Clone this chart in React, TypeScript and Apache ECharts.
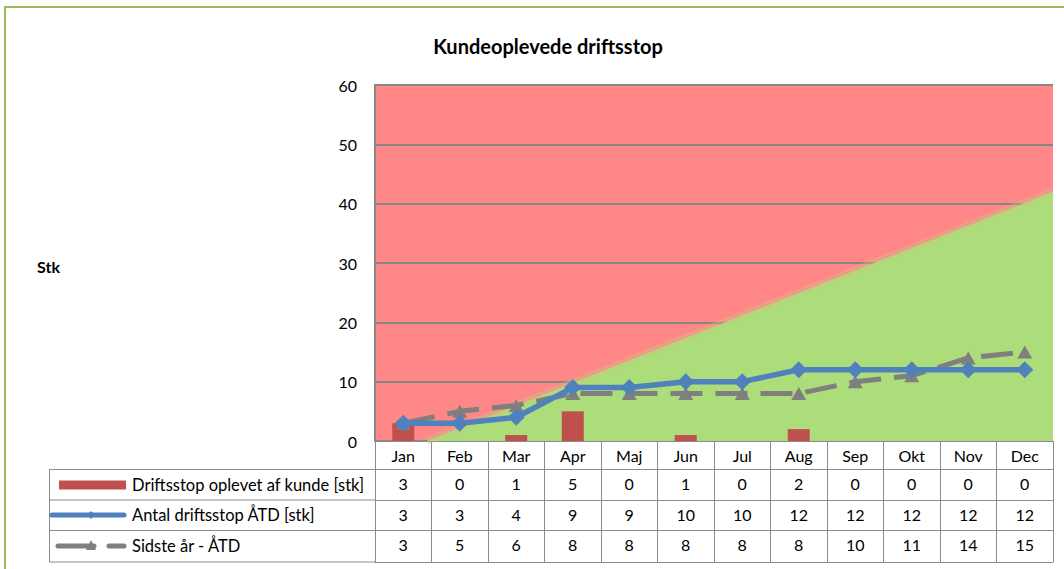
import React, { useEffect, useRef } from "react";
import * as echarts from "echarts";

const months = ["Jan", "Feb", "Mar", "Apr", "Maj", "Jun", "Jul", "Aug", "Sep", "Okt", "Nov", "Dec"];
const stopsMonthly = [3, 0, 1, 5, 0, 1, 0, 2, 0, 0, 0, 0];
const stopsYtd = [3, 3, 4, 9, 9, 10, 10, 12, 12, 12, 12, 12];
const lastYearYtd = [3, 5, 6, 8, 8, 8, 8, 8, 10, 11, 14, 15];
const seriesNames = ["Driftsstop oplevet af kunde [stk]", "Antal driftsstop ÅTD [stk]", "Sidste år - ÅTD"];
// green "target" zone boundary: [fraction of plot width, value]
const targetZone = [[0.0767, 0], [1, 42]];
const yTicks = { min: 0, max: 60, interval: 10 };

const FONT = 'Lato, "Open Sans", sans-serif';
const GRID_COLOR = "#868686";
const TABLE_COLOR = "#8C8C8C";

export default function App() {
  const ref = useRef<HTMLDivElement>(null);
  useEffect(() => {
    document.body.style.margin = "0";
    const chart = echarts.init(ref.current!, undefined, { renderer: "svg" });
    const tableAxis = (data: any[], offset: number, tickLen: number, showLabel = true, showTick = true) => ({
      type: "category",
      data,
      position: "bottom",
      offset,
      gridIndex: 0,
      axisLine: { show: true, lineStyle: { color: TABLE_COLOR, width: 1 } },
      axisTick: { show: showTick, interval: 0, length: tickLen, lineStyle: { color: TABLE_COLOR, width: 1 } },
      axisLabel: { show: showLabel, interval: 0, margin: 6, fontSize: 16, color: "#000", fontFamily: FONT },
      splitLine: { show: false },
    });
    const legendY = [485, 515, 546];
    const legendGraphics: any[] = [
      // table left border lines
      ...[469.5, 500, 530.5, 562].map((y) => ({
        type: "line",
        shape: { x1: 49, y1: y, x2: 375, y2: y },
        style: { stroke: TABLE_COLOR, lineWidth: 1 },
      })),
      { type: "line", shape: { x1: 49.5, y1: 469.5, x2: 49.5, y2: 562 }, style: { stroke: TABLE_COLOR, lineWidth: 1 } },
      // legend icon: bar
      { type: "rect", shape: { x: 59, y: legendY[0] - 4.5, width: 67, height: 9 }, style: { fill: "#C0504D" } },
      // legend icon: blue line with diamond
      { type: "line", shape: { x1: 52, y1: legendY[1], x2: 124, y2: legendY[1] }, style: { stroke: "#4F81BD", lineWidth: 5, lineCap: "round" } },
      { type: "polygon", shape: { points: [[91, legendY[1] - 4], [95, legendY[1]], [91, legendY[1] + 4], [87, legendY[1]]] }, style: { fill: "#4F81BD" } },
      // legend icon: gray dashed line with triangle
      { type: "line", shape: { x1: 58, y1: legendY[2], x2: 94, y2: legendY[2] }, style: { stroke: "#7F7F7F", lineWidth: 5, lineCap: "round" } },
      { type: "line", shape: { x1: 109, y1: legendY[2], x2: 124, y2: legendY[2] }, style: { stroke: "#7F7F7F", lineWidth: 5, lineCap: "round" } },
      { type: "polygon", shape: { points: [[91, legendY[2] - 6], [96, legendY[2] + 4], [86, legendY[2] + 4]] }, style: { fill: "#7F7F7F" } },
      ...seriesNames.map((n, i) => ({
        type: "text",
        x: 132,
        y: legendY[i],
        style: { text: n, fontSize: 16.5, fontFamily: FONT, fill: "#000", verticalAlign: "middle" },
      })),
      // y axis name
      { type: "text", x: 37, y: 266, style: { text: "Stk", fontSize: 16, fontWeight: "bold", fontFamily: FONT, fill: "#000", verticalAlign: "middle" } },
      // outer chart border
      { type: "polyline", shape: { points: [[5, 700], [5, 7], [1070, 7]] }, style: { stroke: "#9BBB59", lineWidth: 2, fill: "none" } },
    ];
    chart.setOption({
      animation: false,
      backgroundColor: "#fff",
      textStyle: { fontFamily: FONT },
      title: {
        text: "Kundeoplevede driftsstop",
        left: 543,
        textAlign: "center",
        top: 31,
        textStyle: { fontSize: 20, fontWeight: "bold", color: "#000", fontFamily: FONT },
      },
      grid: { left: 375, right: 11, top: 85, bottom: 128, show: true, backgroundColor: "#FF8787", borderWidth: 0 },
      xAxis: [
        tableAxis(months, 0, 28),
        tableAxis(stopsMonthly.map(String), 28, 31),
        tableAxis(stopsYtd.map(String), 59, 30),
        tableAxis(lastYearYtd.map(String), 89, 32),
        tableAxis(months, 121, 0, false, false),
        { type: "value", min: 0, max: 1, show: false, gridIndex: 0 },
      ],
      yAxis: {
        type: "value",
        min: yTicks.min,
        max: yTicks.max,
        interval: yTicks.interval,
        axisLine: { show: true, lineStyle: { color: GRID_COLOR, width: 2 } },
        axisTick: { show: false },
        axisLabel: { fontSize: 16, color: "#000", margin: 18, fontFamily: FONT },
        splitLine: { show: true, lineStyle: { color: GRID_COLOR, width: 2 } },
      },
      graphic: legendGraphics,
      series: [
        {
          name: "zone",
          type: "line",
          xAxisIndex: 5,
          data: targetZone,
          symbol: "none",
          silent: true,
          lineStyle: { width: 8, color: "rgba(200,200,130,0.35)" },
          areaStyle: { color: "#ADDD7A", opacity: 1 },
          z: 0,
        },
        {
          name: seriesNames[0],
          type: "bar",
          xAxisIndex: 0,
          data: stopsMonthly,
          barWidth: 22,
          itemStyle: { color: "#C0504D" },
          z: 1,
        },
        {
          name: seriesNames[2],
          type: "line",
          xAxisIndex: 0,
          data: lastYearYtd,
          symbol: "triangle",
          symbolSize: [15, 13],
          lineStyle: { color: "#7F7F7F", width: 5, type: [32, 13] },
          itemStyle: { color: "#7F7F7F" },
          z: 2,
        },
        {
          name: seriesNames[1],
          type: "line",
          xAxisIndex: 0,
          data: stopsYtd,
          symbol: "diamond",
          symbolSize: [17, 17],
          lineStyle: { color: "#4F81BD", width: 5.5 },
          itemStyle: { color: "#4F81BD" },
          z: 3,
        },
      ],
    });
    return () => chart.dispose();
  }, []);
  return <div ref={ref} style={{ position: "absolute", left: 0, top: 0, width: 1064, height: 569 }} />;
}
